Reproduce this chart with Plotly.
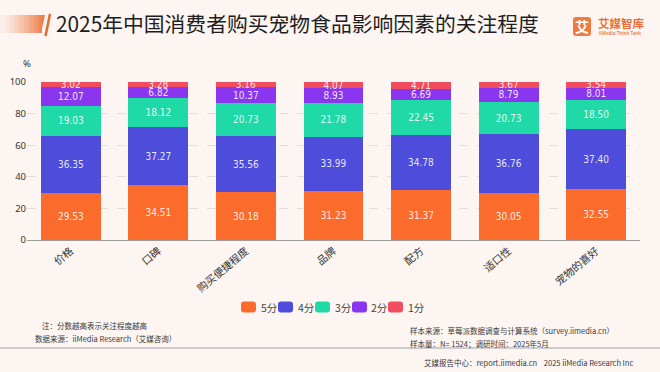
import plotly.graph_objects as go

categories = ["价格", "口碑", "购买便捷程度", "品牌", "配方", "适口性", "宠物的喜好"]
score5 = [29.53, 34.51, 30.18, 31.23, 31.37, 30.05, 32.55]
score4 = [36.35, 37.27, 35.56, 33.99, 34.78, 36.76, 37.40]
score3 = [19.03, 18.12, 20.73, 21.78, 22.45, 20.73, 18.50]
score2 = [12.07, 6.82, 10.37, 8.93, 6.69, 8.79, 8.01]
score1 = [3.02, 3.28, 3.16, 4.07, 4.71, 3.67, 3.54]
series_names = ["5分", "4分", "3分", "2分", "1分"]
series_values = [score5, score4, score3, score2, score1]
colors = ["#FA6B2C", "#4D4CDB", "#1FDAA6", "#8A36EE", "#F24C5F"]
y_ticks = [0, 20, 40, 60, 80, 100]

W, H = 660, 372
ML, MR, MT, MB = 27, 20, 82, 132
PW, PH = W - ML - MR, H - MT - MB


def px(x):
    return (x - ML) / PW


def py(y):
    return (H - MB - y) / PH


fig = go.Figure()
for name, vals, col in zip(series_names, series_values, colors):
    fig.add_trace(go.Bar(
        x=categories, y=vals, name=name,
        marker=dict(color=col, line=dict(width=0)),
        text=[f"{v:.2f}" for v in vals],
        texttemplate="%{text}",
        textposition="inside",
        insidetextanchor="middle",
        textangle=0,
        textfont=dict(color="rgba(255,255,255,0.88)", size=10,
                      family="Liberation Sans Narrow, DejaVu Sans Condensed, Noto Sans"),
        showlegend=False,
    ))

shapes = []
annotations = []

# title decoration: gradient bar
n = 14
for i in range(n):
    x0 = i * 3.0
    x1 = x0 + 3.0
    op = 0.04 + 0.86 * (i / (n - 1)) ** 1.3
    shapes.append(dict(type="rect", xref="paper", yref="paper",
                       x0=px(x0), x1=px(x1), y0=py(33), y1=py(15),
                       fillcolor="#EE7A45", opacity=op, line=dict(width=0), layer="below"))
shapes.append(dict(type="path", xref="paper", yref="paper",
                   path=f"M{px(42)},{py(15)} L{px(45)},{py(15)} L{px(41)},{py(33)} L{px(42)},{py(33)} Z",
                   fillcolor="#EE7A45", line=dict(width=0)))
shapes.append(dict(type="line", xref="paper", yref="paper",
                   x0=px(50), y0=py(14), x1=px(45.5), y1=py(36),
                   line=dict(color="#E4692E", width=2.5)))
annotations.append(dict(text="2025年中国消费者购买宠物食品影响因素的关注程度",
                        xref="paper", yref="paper", x=px(54), y=py(23),
                        xanchor="left", yanchor="middle", showarrow=False,
                        font=dict(family="Noto Sans CJK SC", size=20.8, color="#1E1E1E")))


def rounded_rect(x0, y0, x1, y1, r):
    return (f"M{px(x0 + r)},{py(y0)} L{px(x1 - r)},{py(y0)} Q{px(x1)},{py(y0)} {px(x1)},{py(y0 + r)} "
            f"L{px(x1)},{py(y1 - r)} Q{px(x1)},{py(y1)} {px(x1 - r)},{py(y1)} "
            f"L{px(x0 + r)},{py(y1)} Q{px(x0)},{py(y1)} {px(x0)},{py(y1 - r)} "
            f"L{px(x0)},{py(y0 + r)} Q{px(x0)},{py(y0)} {px(x0 + r)},{py(y0)} Z")


# logo
shapes.append(dict(type="path", xref="paper", yref="paper",
                   path=rounded_rect(573, 17, 591, 36, 3),
                   fillcolor="#EF7A42", line=dict(width=0)))
annotations.append(dict(text="<b>艾</b>", xref="paper", yref="paper", x=px(582), y=py(26.5),
                        xanchor="center", yanchor="middle", showarrow=False,
                        font=dict(family="Noto Sans CJK SC", size=14, color="white")))
annotations.append(dict(text="<b>艾媒智库</b>", xref="paper", yref="paper", x=px(596), y=py(23),
                        xanchor="left", yanchor="middle", showarrow=False,
                        font=dict(family="Noto Sans CJK SC", size=11.5, color="#EB6E36")))
annotations.append(dict(text="<b>iiMedia Think Tank</b>", xref="paper", yref="paper", x=px(596.5), y=py(33),
                        xanchor="left", yanchor="middle", showarrow=False,
                        font=dict(family="Noto Sans", size=4.5, color="#EB8A5A")))

# % label
annotations.append(dict(text="%", xref="paper", yref="paper", x=px(27), y=py(63),
                        xanchor="center", yanchor="middle", showarrow=False,
                        font=dict(family="Noto Sans", size=9.5, color="#333")))

# custom legend
leg_x = [241, 278, 315, 352, 388]
for name, col, lx in zip(series_names, colors, leg_x):
    shapes.append(dict(type="path", xref="paper", yref="paper",
                       path=rounded_rect(lx, 301.5, lx + 15, 312.5, 3),
                       fillcolor=col, line=dict(width=0)))
    annotations.append(dict(text=name, xref="paper", yref="paper", x=px(lx + 17.5), y=py(307),
                            xanchor="left", yanchor="middle", showarrow=False,
                            font=dict(family="Noto Sans CJK SC", size=10.5, color="#444")))

# footnotes
foot_font = dict(family="Noto Sans CJK SC", size=7.5, color="#3A3A3A")
annotations += [
    dict(text="注：分数越高表示关注程度越高", x=px(40), y=py(325)),
    dict(text="数据来源：iiMedia Research（艾媒咨询）", x=px(33), y=py(338.5)),
    dict(text="样本来源：草莓派数据调查与计算系统（survey.iimedia.cn）", x=px(408), y=py(330)),
    dict(text="样本量：N= 1524；调研时间：2025年5月", x=px(408), y=py(343.5)),
    dict(text="艾媒报告中心：report.iimedia.cn    2025 iiMedia Research Inc", x=px(422), y=py(362.5)),
]
for a in annotations[-5:]:
    a.update(xref="paper", yref="paper", xanchor="left", yanchor="middle",
             showarrow=False, font=foot_font)

shapes.append(dict(type="line", xref="paper", yref="paper",
                   x0=px(0), x1=px(660), y0=py(348), y1=py(348),
                   line=dict(color="#CFCBCA", width=2)))

fig.update_layout(
    width=W, height=H,
    margin=dict(l=ML, r=MR, t=MT, b=MB, autoexpand=False),
    paper_bgcolor="#FCF5F2",
    plot_bgcolor="rgba(0,0,0,0)",
    barmode="stack",
    bargap=0.315,
    showlegend=False,
    uniformtext=dict(mode="show", minsize=10),
    shapes=shapes,
    annotations=annotations,
    font=dict(family="Noto Sans CJK SC", color="#333"),
)
fig.update_xaxes(
    showline=True, linecolor="#9C9C9C", linewidth=1,
    tickangle=-40, tickfont=dict(size=10.5, color="#333", family="Noto Sans CJK SC"),
    showgrid=False, ticks="", automargin=False,
)
fig.update_yaxes(
    range=[0, 100], tickvals=y_ticks, ticktext=[str(v) for v in y_ticks],
    showgrid=True, gridcolor="#E3DEDC", griddash="dash", gridwidth=1,
    zeroline=False, showline=False, ticks="",
    tickfont=dict(size=9.5, color="#333", family="Noto Sans"),
    automargin=False,
)

fig.write_html(
    "out.html",
    config={"displayModeBar": False},
    post_script="document.body.style.margin='0';document.body.style.padding='0';document.body.style.overflow='hidden';document.documentElement.style.overflow='hidden';",
)
